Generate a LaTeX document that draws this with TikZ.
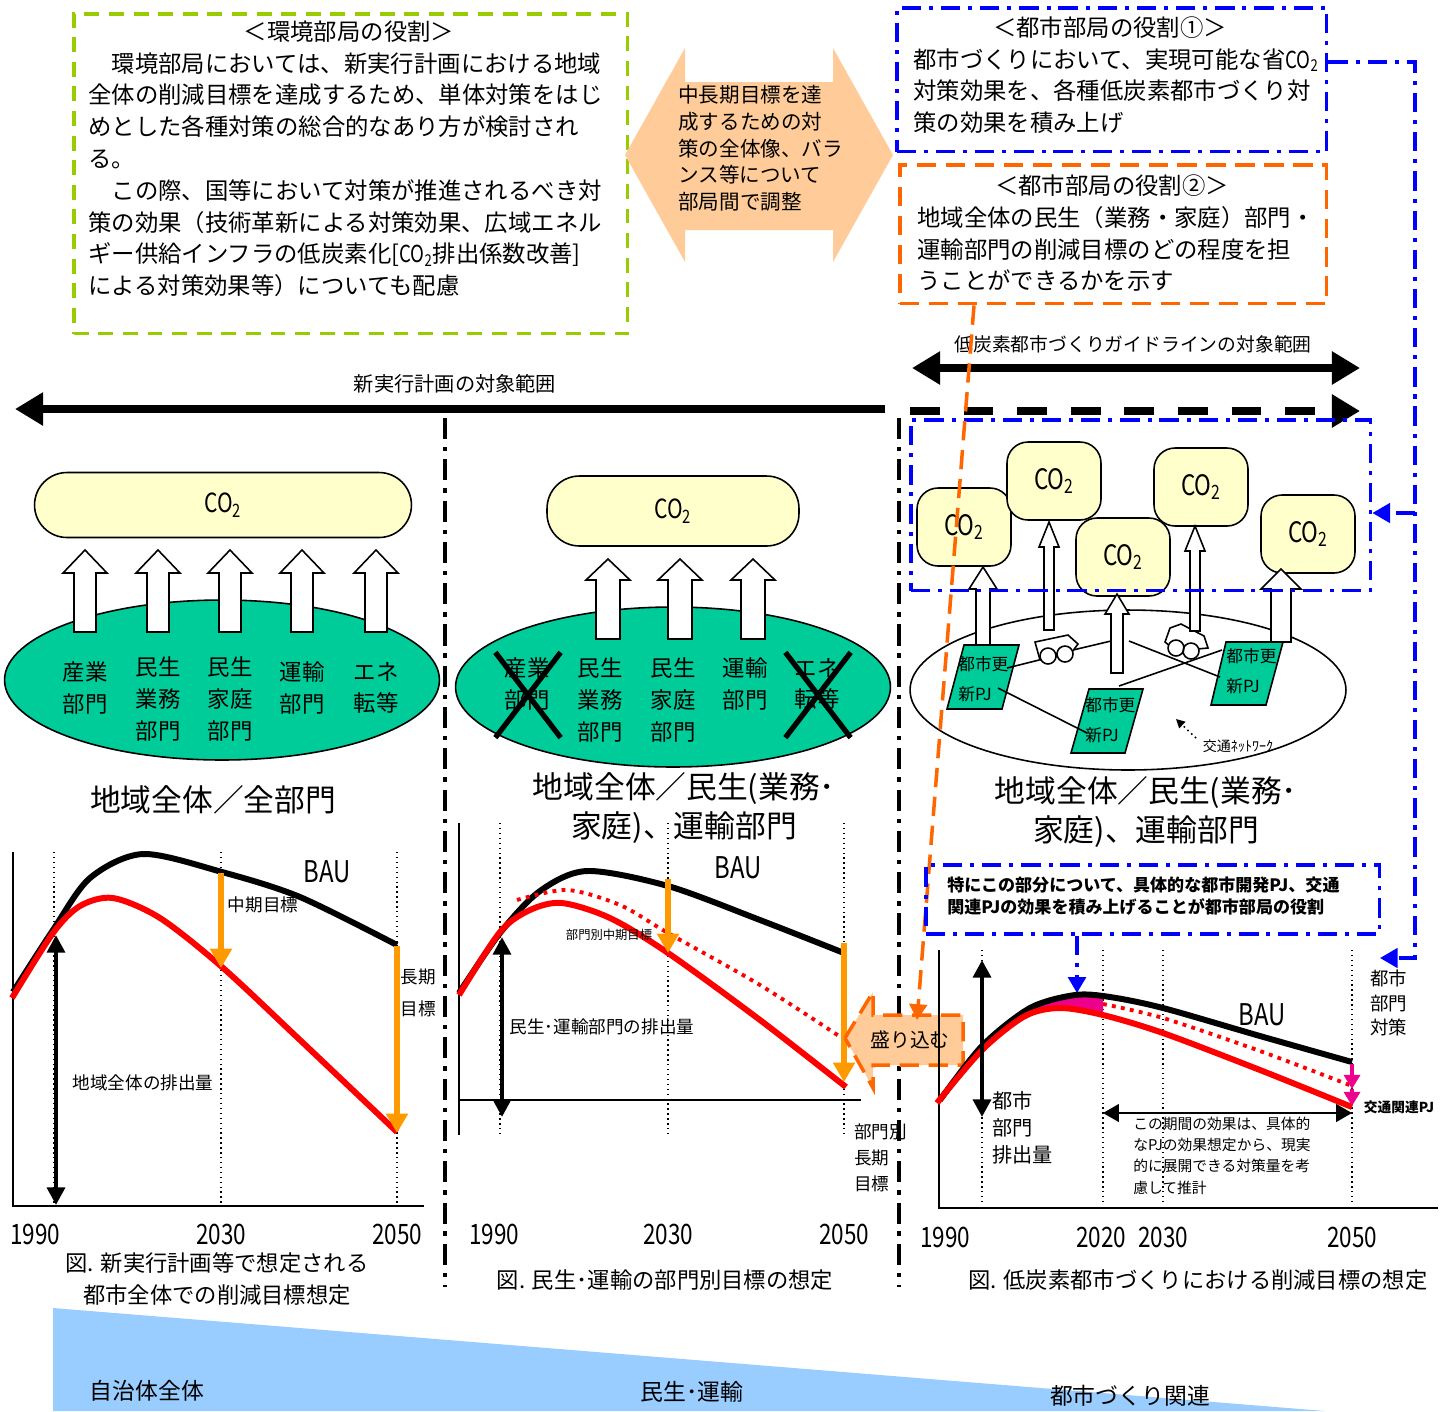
\documentclass[tikz,border=0pt]{standalone}
\usepackage{fontspec}
\setmainfont{Noto Sans CJK JP}
\newfontfamily\narrowfont[FakeStretch=0.8]{Noto Sans CJK JP}
\usetikzlibrary{arrows.meta,calc,positioning,shapes.geometric,shapes.misc}

\definecolor{leafgreen}{RGB}{153,204,0}
\definecolor{peach}{RGB}{255,204,153}
\definecolor{sectorgreen}{RGB}{0,204,153}
\definecolor{cloudyellow}{RGB}{255,255,204}
\definecolor{amber}{RGB}{255,153,0}
\definecolor{deeporange}{RGB}{255,102,0}
\definecolor{paleblue}{RGB}{153,204,255}
\definecolor{roleblue}{RGB}{0,0,255}

\newcommand{\cotwo}{{\narrowfont CO\textsubscript{2}}}
% white block arrow pointing up: x, tip, tail, head half width, shaft half width, head length
\newcommand{\emitarrow}[6]{%
  \draw[fill=white,line width=0.9pt] (#1-#5,#3) -- (#1-#5,#2+#6) -- (#1-#4,#2+#6)
    -- (#1,#2) -- (#1+#4,#2+#6) -- (#1+#5,#2+#6) -- (#1+#5,#3) -- cycle;}

\begin{document}
\begin{tikzpicture}[x=0.02cm, y=-0.02cm,
    envbox/.style={draw=leafgreen, line width=2pt, dash pattern=on 8.5pt off 5.5pt, anchor=north west, inner sep=0pt},
    roleone/.style={draw=roleblue, line width=2pt, dash pattern=on 11pt off 4.5pt on 2.3pt off 4.5pt},
    roletwo/.style={draw=deeporange, line width=2pt, dash pattern=on 11pt off 5.5pt},
    body/.style={font=\fontsize{13.3}{18.1}\selectfont, align=left, inner sep=0pt, anchor=north west},
    head/.style={font=\fontsize{13.3}{16}\selectfont, inner sep=0pt},
    co2cloud/.style={draw, line width=0.9pt, fill=cloudyellow, rounded corners=0.65cm, font=\fontsize{15}{15}\selectfont},
    barrel/.style={draw, line width=0.9pt, fill=cloudyellow, rounded corners=0.42cm, minimum width=1.88cm, minimum height=1.56cm, font=\fontsize{16}{16}\selectfont},
    sector/.style={ellipse, draw, line width=0.9pt, fill=sectorgreen, minimum width=8.7cm, minimum height=3.2cm},
    seclabel/.style={font=\fontsize{12.75}{18.1}\selectfont, align=center, inner sep=0pt},
    dropped/.style={cross out, draw, line width=3pt, minimum width=1.2cm, minimum height=1.6cm, inner sep=0pt},
    pjlabel/.style={font=\fontsize{9.5}{17}\selectfont, align=left, inner sep=0pt, anchor=west},
    title/.style={font=\fontsize{17.5}{22.7}\selectfont, align=center, inner sep=0pt},
    caption/.style={font=\fontsize{12.7}{18.1}\selectfont, align=center, inner sep=0pt},
    year/.style={font=\narrowfont\fontsize{16}{16}\selectfont, inner sep=0pt},
    bau/.style={font=\narrowfont\fontsize{17}{17}\selectfont, inner sep=0pt},
    note/.style={font=\fontsize{10}{18}\selectfont, inner sep=0pt, align=center},
    axis/.style={line width=1pt},
    guide/.style={dotted, line width=0.8pt},
    baucurve/.style={line width=3.4pt},
    cut/.style={red, line width=3.4pt},
    cutdot/.style={red, line width=2.2pt, dash pattern=on 2.2pt off 3pt},
    goal/.style={amber, line width=3.4pt, -{Triangle[length=11pt,width=12pt]}},
    extent/.style={line width=2.8pt, {Triangle[length=10pt,width=10pt]}-{Triangle[length=10pt,width=10pt]}},
    scopeline/.style={line width=4.6pt},
    divider/.style={line width=2.2pt, dash pattern=on 12pt off 4.5pt on 2.5pt off 4.5pt},
    >={Triangle[length=16pt,width=18pt]}
    ]
\useasboundingbox (0,0) rectangle (1453,1411);

%Role boxes
\node[envbox, minimum width=11.08cm, minimum height=6.4cm] (envframe) at (72,12) {};
\node[head] (envhead) at (349,32) {＜環境部局の役割＞};
\node[body] (envtext) at (88,52) {　環境部局においては、新実行計画における地域\\
全体の削減目標を達成するため、単体対策をはじ\\
めとした各種対策の総合的なあり方が検討され\\
る。\\
　この際、国等において対策が推進されるべき対\\
策の効果（技術革新による対策効果、広域エネル\\
ギー供給インフラの低炭素化[\cotwo 排出係数改善]\\
による対策効果等）についても配慮};

\fill[peach] (625,155) -- (685,48) -- (685,82) -- (833,82) -- (833,48) -- (893,155)
    -- (833,262) -- (833,230) -- (685,230) -- (685,262) -- cycle;
\node[font=\fontsize{11.7}{15.2}\selectfont, align=left, inner sep=0pt, anchor=north west] (adjust) at (678,85)
    {中長期目標を達\\成するための対\\策の全体像、バラ\\ンス等について\\部局間で調整};

\node[roleone, minimum width=8.6cm, minimum height=2.88cm, anchor=north west, inner sep=0pt] (cityone) at (895,6) {};
\node[head] (cityonehead) at (1110,28) {＜都市部局の役割①＞};
\node[body] (cityonetext) at (913,48) {都市づくりにおいて、実現可能な省\cotwo\\対策効果を、各種低炭素都市づくり対\\策の効果を積み上げ};

\node[roletwo, minimum width=8.54cm, minimum height=2.78cm, anchor=north west, inner sep=0pt] (citytwo) at (898,163) {};
\node[head] (citytwohead) at (1112,186) {＜都市部局の役割②＞};
\node[body] (citytwotext) at (917,206) {地域全体の民生（業務・家庭）部門・\\運輸部門の削減目標のどの程度を担\\うことができるかを示す};

%Scope arrows
\node[font=\fontsize{11.5}{11.5}\selectfont, inner sep=0pt] (planscope) at (455,384) {新実行計画の対象範囲};
\node[font=\fontsize{10.7}{10.7}\selectfont, inner sep=0pt] (guidescope) at (1133,344) {低炭素都市づくりガイドラインの対象範囲};
\draw[scopeline, ->] (885,409) -- (15,409);
\draw[scopeline, <->] (912,368) -- (1360,368);
\draw[scopeline, ->, dash pattern=on 17pt off 13.5pt] (910,411) -- (1360,411);

\draw[divider] (445,418) -- (445,1287);
\draw[divider] (899,418) -- (899,1287);

%Whole region
\node[sector] (sectall) at (222,680) {};
\node[co2cloud, minimum width=7.54cm, minimum height=1.3cm] (cloudall) at (223,505) {\cotwo};
\foreach \x in {85,158,230,302,376} {\emitarrow{\x}{550}{632}{22}{11}{23}}
\node[seclabel] (indA) at (85,688) {産業\\部門};
\node[seclabel] (bizA) at (158,699) {民生\\業務\\部門};
\node[seclabel] (homeA) at (230,699) {民生\\家庭\\部門};
\node[seclabel] (tranA) at (302,688) {運輸\\部門};
\node[seclabel] (enerA) at (376,688) {エネ\\転等};
\node[title] (allsect) at (213,800) {地域全体／全部門};

%Residential and transport
\node[sector] (sectres) at (673,687) {};
\node[co2cloud, minimum width=5.04cm, minimum height=1.4cm] (cloudres) at (673,511) {\cotwo};
\foreach \x in {608,680,753} {\emitarrow{\x}{559}{639}{22}{12}{21}}
\node[seclabel] (indB) at (527,684) {産業\\部門};
\node[seclabel] (bizB) at (600,700) {民生\\業務\\部門};
\node[seclabel] (homeB) at (673,700) {民生\\家庭\\部門};
\node[seclabel] (tranB) at (745,684) {運輸\\部門};
\node[seclabel] (enerB) at (817,684) {エネ\\転等};
\node[dropped] (dropind) at (528,695) {};
\node[dropped] (dropener) at (818,695) {};
\node[title] (resect) at (684,808) {地域全体／民生(業務･\\家庭)、運輸部門};

%City projects
\node[ellipse, draw, line width=0.9pt, minimum width=8.72cm, minimum height=3.2cm] (network) at (1128,690) {};
\filldraw[fill=sectorgreen, line width=0.9pt] (964,645) -- (1019,645) -- (1002,709) -- (947,709) -- cycle;
\filldraw[fill=sectorgreen, line width=0.9pt] (1089,689) -- (1143,689) -- (1125,753) -- (1071,753) -- cycle;
\filldraw[fill=sectorgreen, line width=0.9pt] (1226,642) -- (1283,642) -- (1266,705) -- (1211,705) -- cycle;
\node[pjlabel] (pjone) at (958,679) {都市更\\新PJ};
\node[pjlabel] (pjtwo) at (1085,720) {都市更\\新PJ};
\node[pjlabel] (pjthree) at (1226,671) {都市更\\新PJ};
\draw[line width=0.9pt] (1007,668) -- (1039,660);
\draw[line width=0.9pt] (1073,650) -- (1111,641);
\draw[line width=0.9pt] (1129,641) -- (1220,677);
\draw[line width=0.9pt] (998,688) -- (1087,733);
\draw[line width=0.9pt] (1119,686) -- (1222,650);
% cars
\draw[fill=white, line width=0.9pt] (1035,642) -- (1068,635) -- (1078,644) -- (1072,652) -- (1040,660) -- cycle;
\draw[fill=white, line width=0.9pt] (1048,656) circle[radius=0.16cm] (1065,654) circle[radius=0.16cm];
\draw[fill=white, line width=0.9pt] (1170,628) -- (1181,624) -- (1204,636) -- (1208,648) -- (1176,651) -- (1165,642) -- cycle;
\draw[fill=white, line width=0.9pt] (1176,648) circle[radius=0.16cm] (1191,651) circle[radius=0.16cm];
\node[font=\fontsize{8}{8}\selectfont, inner sep=0pt] (netlabel) at (1238,746) {交通ﾈｯﾄﾜｰｸ};
\draw[dotted, line width=0.9pt, -{Triangle[length=5pt,width=5pt]}] (1196,738) -- (1176,719);

\node[barrel] (pja) at (964,527) {\cotwo};
\node[barrel] (pjb) at (1054,481) {\cotwo};
\node[barrel] (pjd) at (1201,487) {\cotwo};
\node[barrel] (pje) at (1308,534) {\cotwo};
\node[barrel] (pjc) at (1123,557) {\cotwo};
\emitarrow{983}{567}{645}{14}{7}{22}
\emitarrow{1049}{522}{630}{10}{5}{25}
\emitarrow{1117}{594}{673}{12}{6}{20}
\emitarrow{1195}{526}{631}{10}{5}{25}
\emitarrow{1281}{569}{642}{20}{10}{20}
\node[roleone, minimum width=9.2cm, minimum height=3.42cm, anchor=north west, inner sep=0pt] (pjframe) at (909,418) {};
\node[title] (cityres) at (1146,812) {地域全体／民生(業務･\\家庭)、運輸部門};

%Left chart
\draw[axis] (13,852) -- (13,1206) -- (424,1206);
\foreach \x in {54,221,397} {\draw[guide] (\x,852) -- (\x,1203);}
\draw[baucurve] plot[smooth] coordinates {(13,992) (53,930) (90,878) (143,854) (222,872) (300,897) (397,945)};
\draw[cut] plot[smooth] coordinates {(12,998) (53,933) (80,906) (113,898) (160,918) (222,967) (300,1040) (397,1132)};
\draw[goal] (221,873) -- (221,968);
\draw[goal] (397,946) -- (397,1133);
\draw[extent] (56,935) -- (56,1205);
\node[bau] (bauall) at (327,872) {BAU};
\node[note] (midgoal) at (263,905) {中期目標};
\node[note] (longgoal) at (418,993) {長期\\目標};
\node[note] (allemit) at (143,1083) {地域全体の排出量};
\node[year] (ya1) at (35,1234) {1990};
\node[year] (ya2) at (221,1234) {2030};
\node[year] (ya3) at (397,1234) {2050};
\node[caption] (capall) at (217,1279) {図. 新実行計画等で想定される\\都市全体での削減目標想定};

%Middle chart
\draw[axis] (459,823) -- (459,1135);
\draw[axis] (459,1100) -- (861,1100);
\foreach \x in {500,668,844} {\draw[guide] (\x,823) -- (\x,1135);}
\draw[baucurve] plot[smooth] coordinates {(459,993) (500,933) (540,891) (587,871) (668,886) (760,920) (844,953)};
\draw[cutdot] plot[smooth] coordinates {(517,900) (567,890) (620,905) (668,933) (760,985) (842,1038)};
\draw[cut] plot[smooth] coordinates {(459,995) (500,932) (530,910) (562,903) (610,918) (668,953) (760,1020) (846,1087)};
\draw[goal] (668,879) -- (668,953);
\draw[goal] (844,943) -- (844,1082);
\draw[extent] (502,937) -- (502,1117);
\node[bau] (baures) at (738,868) {BAU};
\node[font=\fontsize{7}{7}\selectfont, inner sep=0pt] (midsect) at (609,935) {部門別中期目標};
\node[note] (resemit) at (602,1027) {民生･運輸部門の排出量};
\node[note, align=left, anchor=north west, font=\fontsize{10}{15}\selectfont] (longsect) at (854,1123) {部門別\\長期\\目標};
\node[year] (yb1) at (494,1234) {1990};
\node[year] (yb2) at (668,1234) {2030};
\node[year] (yb3) at (844,1234) {2050};
\node[caption] (capres) at (665,1280) {図. 民生･運輸の部門別目標の想定};

% merge arrow
\filldraw[fill=peach, roletwo] (845,1038) -- (873,992) -- (873,1015) -- (963,1015) -- (963,1065)
    -- (873,1065) -- (873,1088) -- cycle;
\node[font=\fontsize{11.3}{11.3}\selectfont, inner sep=0pt] (merge) at (910,1040) {盛り込む};
\coordinate (mergein) at (917,1020);
\draw[roletwo, -{Triangle[length=9pt,width=10pt]}] (citytwo.south -| 974,0) -- (mergein);

%Right chart
\node[roleone, minimum width=9.08cm, minimum height=1.38cm, anchor=north west, inner sep=0pt] (focus) at (924,863) {};
\node[font=\bfseries\fontsize{9.7}{12.5}\selectfont, align=left, inner sep=0pt, anchor=west] (focustext) at (947,896)
    {特にこの部分について、具体的な都市開発PJ、交通\\関連PJの効果を積み上げることが都市部局の役割};
\coordinate (peakmark) at (1077,993);
\draw[roleone, -{Triangle[length=9pt,width=10pt]}] (focus.south -| peakmark) -- (peakmark);

\draw[axis] (939,950) -- (939,1208) -- (1438,1208);
\foreach \x in {982,1103,1163,1352} {\draw[guide] (\x,950) -- (\x,1205);}
\fill[magenta] (1025,1012) .. controls (1050,998) and (1080,994) .. (1103,997) -- (1103,1015)
    .. controls (1075,1006) and (1050,1007) .. (1025,1016) -- cycle;
\draw[baucurve] plot[smooth] coordinates {(940,1100) (982,1046) (1030,1008) (1075,995) (1110,997) (1163,1008) (1260,1036) (1352,1062)};
\draw[cutdot] plot[smooth] coordinates {(1103,1004) (1163,1018) (1260,1051) (1352,1086)};
\draw[cut] plot[smooth] coordinates {(937,1103) (982,1050) (1025,1016) (1060,1008) (1103,1015) (1163,1033) (1260,1070) (1352,1107)};
\draw[magenta, line width=2.3pt, -{Triangle[length=8pt,width=9pt]}] (1352,1064) -- (1352,1089);
\draw[magenta, line width=2.3pt, -{Triangle[length=8pt,width=9pt]}] (1352,1089) -- (1352,1106);
\draw[extent] (982,960) -- (982,1117);
\draw[line width=1.2pt, {Triangle[length=9pt,width=10pt]}-{Triangle[length=9pt,width=10pt]}] (1103,1113) -- (1352,1113);
\node[bau] (baucity) at (1262,1015) {BAU};
\node[note, align=left, anchor=west, font=\fontsize{11.5}{15.3}\selectfont] (cityemit) at (992,1128) {都市\\部門\\排出量};
\node[note, align=left, anchor=west, font=\fontsize{10.5}{13.9}\selectfont] (citymeasure) at (1370,1003) {都市\\部門\\対策};
\node[font=\bfseries\fontsize{7.8}{7.8}\selectfont, inner sep=0pt] (transpj) at (1399,1107) {交通関連PJ};
\node[font=\fontsize{8.4}{12}\selectfont, align=left, anchor=north west, inner sep=0pt] (periodnote) at (1133,1117)
    {この期間の効果は、具体的\\なPJの効果想定から、現実\\的に展開できる対策量を考\\慮して推計};
\node[year] (yc1) at (945,1237) {1990};
\node[year] (yc2) at (1101,1237) {2020};
\node[year] (yc3) at (1163,1237) {2030};
\node[year] (yc4) at (1352,1237) {2050};
\node[caption] (capcity) at (1198,1280) {図. 低炭素都市づくりにおける削減目標の想定};

%Links from role one
\coordinate (bendtop) at (1415,62);
\coordinate (bendmid) at (1415,513);
\coordinate (bendlow) at (1415,958);
\coordinate (chartin) at (1380,958);
\draw[roleone, -{Triangle[length=10pt,width=11pt]}] (cityone.east |- bendtop) -- (bendtop) -- (bendlow) -- (chartin);
\draw[roleone, -{Triangle[length=10pt,width=11pt]}] (bendmid) -- (pjframe.east |- bendmid);

%Scale of targets
\fill[paleblue] (53,1308) -- (1325,1411) -- (53,1411) -- cycle;
\node[font=\fontsize{13}{13}\selectfont, inner sep=0pt] (scaleall) at (147,1391) {自治体全体};
\node[font=\fontsize{13}{13}\selectfont, inner sep=0pt] (scaleres) at (692,1392) {民生･運輸};
\node[font=\fontsize{13}{13}\selectfont, inner sep=0pt] (scalecity) at (1130,1396) {都市づくり関連};
\end{tikzpicture}
\end{document}
